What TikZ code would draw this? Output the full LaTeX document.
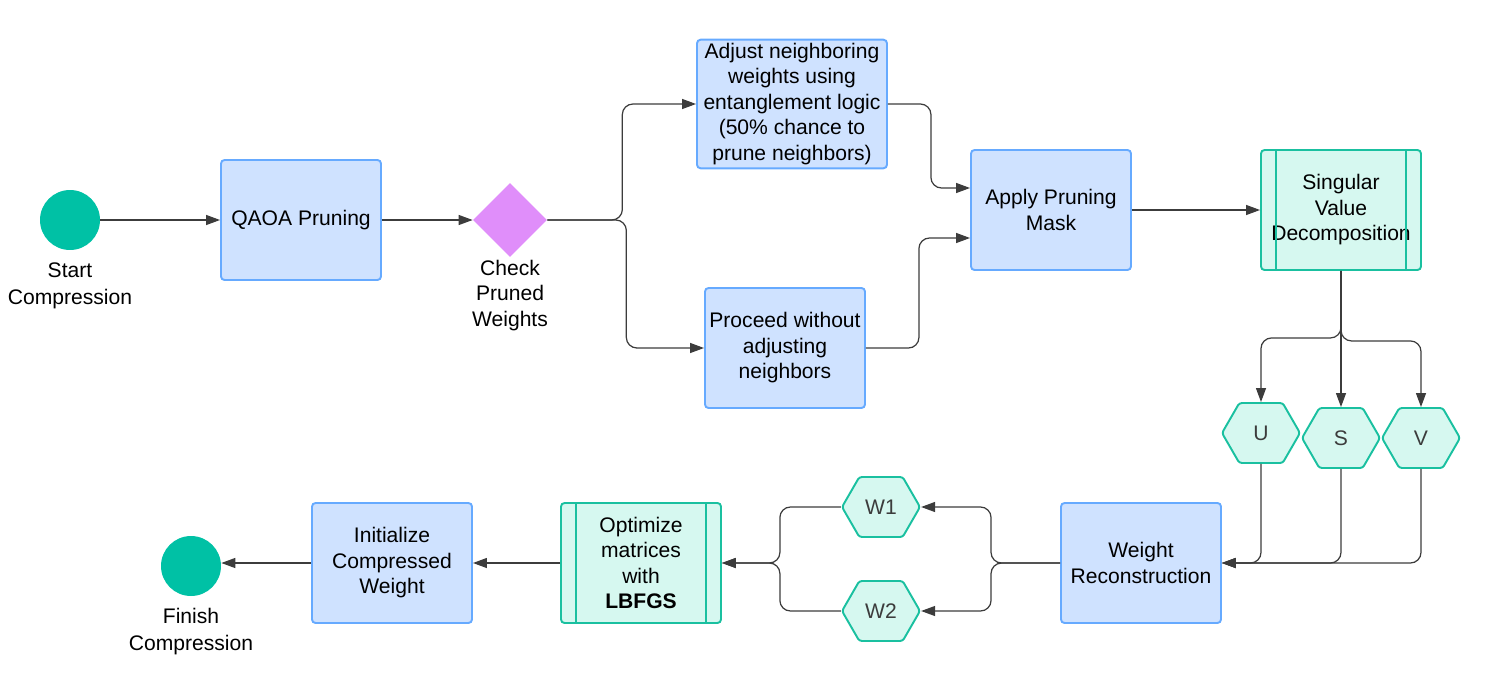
\documentclass[tikz,border=0pt]{standalone}
\usepackage{fontspec}
\setmainfont{Liberation Sans}
\usetikzlibrary{shapes.geometric,shapes.symbols,arrows.meta,calc}
\definecolor{boxfill}{RGB}{207,226,255}
\definecolor{boxline}{RGB}{102,170,255}
\definecolor{tealfill}{RGB}{214,248,240}
\definecolor{tealline}{RGB}{26,192,160}
\definecolor{tealdot}{RGB}{0,193,165}
\definecolor{checkfill}{RGB}{224,142,250}
\definecolor{flowgray}{RGB}{60,60,60}
\begin{document}
\begin{tikzpicture}[x=0.02cm, y=0.02cm,
                    every node/.style={font=\fontsize{12}{14.5}\selectfont, align=center},
                    startend/.style={circle, fill=tealdot, minimum size=1.2cm, inner sep=0pt},
                    task/.style={rectangle, rounded corners=2pt, draw=boxline, fill=boxfill,
                                 line width=1.1pt, minimum width=3.2cm, minimum height=2.4cm, inner sep=2pt},
                    subproc/.style={task, draw=tealline, fill=tealfill},
                    decision/.style={diamond, fill=checkfill, minimum width=1.48cm,
                                     minimum height=1.48cm, inner sep=0pt},
                    datahex/.style={signal, signal to=west and east, signal pointer angle=120,
                                    draw=tealline, fill=tealfill, line width=1.1pt, rounded corners=1.5pt,
                                    minimum width=1.56cm, minimum height=1.2cm, inner sep=0pt, text=flowgray},
                    sideline/.style={draw=tealline, line width=1.1pt},
                    flow/.style={draw=flowgray, line width=0.7pt, rounded corners=6pt,
                                 -{Triangle[length=0.28cm,width=0.2cm]}},
                    tag/.style={align=center, label distance=-2pt},
                    endtag/.style={align=center, label distance=3.5pt, font=\fontsize{12}{15.3}\selectfont}]
    \useasboundingbox (0,0) rectangle (1502,-683);
    \node[startend, label={[endtag]below:Start\\Compression}] (start) at (70,-220) {};
    \node[task] (qaoa) at (301,-220) {QAOA Pruning};
    \node[decision, label={[tag]below:Check\\Pruned\\Weights}] (check) at (510,-220) {};
    \node[task, minimum width=3.8cm, minimum height=2.56cm] (adjust) at (792,-104)
        {Adjust neighboring\\weights using\\entanglement logic\\(50\% chance to\\prune neighbors)};
    \node[task] (proceed) at (785,-348) {Proceed without\\adjusting\\neighbors};
    \node[task] (apply) at (1051,-210) {Apply Pruning\\Mask};
    \node[subproc] (svd) at (1341,-210) {Singular\\Value\\Decomposition};
    \node[datahex] (u) at (1261,-433) {U};
    \node[datahex] (s) at (1341,-438) {S};
    \node[datahex] (v) at (1421,-438) {V};
    \node[task] (recon) at (1141,-563) {Weight\\Reconstruction};
    \node[datahex] (w1) at (881,-507) {W1};
    \node[datahex] (w2) at (881,-611) {W2};
    \node[subproc] (optim) at (641,-563) {Optimize\\matrices\\with\\\textbf{LBFGS}};
    \node[task] (init) at (392,-563) {Initialize\\Compressed\\Weight};
    \node[startend, label={[endtag]below:Finish\\Compression}] (finish) at (191,-566) {};

    \foreach \proc in {svd,optim}{
        \draw[sideline] ($(\proc.north west)+(16,0)$) -- ($(\proc.south west)+(16,0)$);
        \draw[sideline] ($(\proc.north east)+(-16,0)$) -- ($(\proc.south east)+(-16,0)$);
    }

    \draw[flow] (start) -- (qaoa);
    \draw[flow] (qaoa) -- (check);
    \draw[flow] (check.east) -- ++(75,0) |- (adjust.west);
    \draw[flow] (check.east) -- ++(79,0) |- (proceed.west);
    \draw[flow] (adjust.east) -- ++(43,0) |- ($(apply.west)+(0,22)$);
    \draw[flow] (proceed.east) -- ++(53,0) |- ($(apply.west)+(0,-28)$);
    \draw[flow] (apply) -- (svd);
    \draw[flow] (svd.south) -- ++(0,-67) -| (u.north);
    \draw[flow] (svd.south) -- (s.north);
    \draw[flow] (svd.south) -- ++(0,-70) -| (v.north);
    \draw[flow] (u.south) |- (recon.east);
    \draw[flow] (s.south) |- (recon.east);
    \draw[flow] (v.south) |- (recon.east);
    \draw[flow] (recon.west) -- ++(-69,0) |- (w1.east);
    \draw[flow] (recon.west) -- ++(-69,0) |- (w2.east);
    \draw[flow] (w1.west) -- ++(-61,0) |- (optim.east);
    \draw[flow] (w2.west) -- ++(-61,0) |- (optim.east);
    \draw[flow] (optim) -- (init);
    \draw[flow] (init.west) -- (finish.east |- init.west);
\end{tikzpicture}
\end{document}
